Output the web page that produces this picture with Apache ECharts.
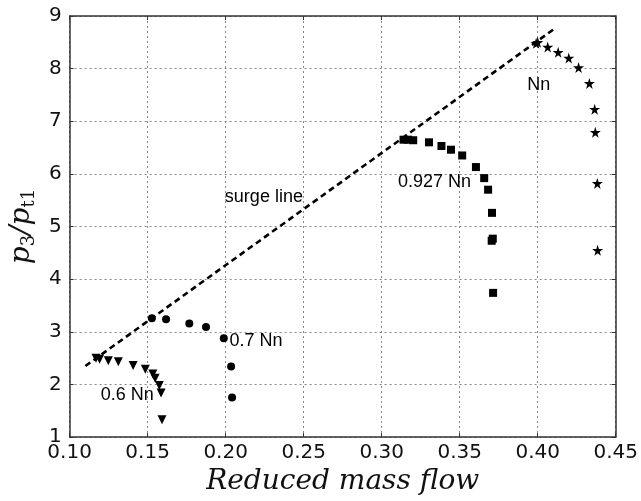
<!DOCTYPE html>
<html><head><meta charset="utf-8">
<script src="https://cdn.jsdelivr.net/npm/echarts@6/dist/echarts.min.js"></script>
<style>html,body{margin:0;padding:0;background:#fff}#c{width:641px;height:501px}</style>
</head><body><div id="c"></div>
<script>
// 0.6 Nn (down triangles)
const n06 = [[0.1169,2.50],[0.1192,2.48],[0.1248,2.45],[0.1312,2.43],[0.1407,2.36],[0.1485,2.29],[0.1533,2.20],[0.1548,2.12],[0.1575,1.98],[0.1586,1.84],[0.1592,1.33]];
// 0.7 Nn (circles)
const n07 = [[0.1527,3.26],[0.1618,3.24],[0.1767,3.16],[0.1874,3.09],[0.1988,2.88],[0.2035,2.34],[0.2041,1.75]];
// 0.927 Nn (squares)
const n0927 = [[0.3140,6.65],[0.3170,6.65],[0.3202,6.64],[0.3303,6.60],[0.3383,6.53],[0.3444,6.46],[0.3516,6.35],[0.3604,6.13],[0.3657,5.92],[0.3682,5.70],[0.3707,5.26],[0.3705,4.73],[0.3712,4.77],[0.3714,3.74]];
// Nn (stars)
const nn = [[0.3990,8.48],[0.4000,8.50],[0.4064,8.41],[0.4131,8.31],[0.4199,8.20],[0.4262,8.02],[0.4331,7.72],[0.4365,7.23],[0.4369,6.79],[0.4382,5.82],[0.4384,4.55]];
// surge line endpoints
const surge = [[0.1101,2.35],[0.4104,8.75]];
// annotation labels
const notes = [[0.2245,5.56,'surge line'],[0.3339,5.84,'0.927 Nn'],[0.4006,7.69,'Nn'],[0.2195,2.82,'0.7 Nn'],[0.1370,1.80,'0.6 Nn']];
const xTicks = [0.10,0.15,0.20,0.25,0.30,0.35,0.40,0.45];
const yTicks = [1,2,3,4,5,6,7,8,9];

const star = 'path://M50,0 L61,35 L98,35 L68,57 L79,91 L50,70 L21,91 L32,57 L2,35 L39,35 Z';
const axisCol = '#333';
const chart = echarts.init(document.getElementById('c'));
const tickFont = {fontFamily:'DejaVu Sans', fontSize:20, color:'#111'};
const mk = {color:'#000', opacity:1};
chart.setOption({
  animation:false,
  backgroundColor:'#fff',
  grid:{left:64,right:23.5,top:16,bottom:56.7},
  xAxis:[{
    type:'value', min:0.10, max:0.45, interval:0.05,
    axisLine:{show:true,onZero:false,lineStyle:{color:axisCol,width:1.5}},
    axisTick:{show:true,inside:true,length:4,lineStyle:{color:axisCol}},
    axisLabel:Object.assign({margin:6,formatter:v=>v.toFixed(2)},tickFont),
    splitLine:{show:true,lineStyle:{type:[2,3],color:'#888',width:1}},
    name:'Reduced mass flow', nameLocation:'middle', nameGap:30,
    nameTextStyle:{fontFamily:'DejaVu Serif',fontStyle:'italic',fontSize:28,color:'#111'}
  },{
    type:'value', position:'top', min:0.10, max:0.45, interval:0.05,
    axisLine:{show:true,onZero:false,lineStyle:{color:axisCol,width:1.5}},
    axisTick:{show:true,inside:true,length:4,lineStyle:{color:axisCol}},
    axisLabel:{show:false}, splitLine:{show:false}
  }],
  yAxis:[{
    type:'value', min:1, max:9, interval:1,
    axisLine:{show:true,onZero:false,lineStyle:{color:axisCol,width:1.5}},
    axisTick:{show:true,inside:true,length:4,lineStyle:{color:axisCol}},
    axisLabel:Object.assign({margin:8},tickFont),
    splitLine:{show:true,lineStyle:{type:[2,3],color:'#888',width:1}},
    name:'{a|p}{b|3}{a|/p}{b|t1}', nameLocation:'middle', nameGap:30, nameRotate:90,
    nameTextStyle:{rich:{
      a:{fontFamily:'DejaVu Serif',fontStyle:'italic',fontSize:28,color:'#111',lineHeight:30,verticalAlign:'middle'},
      b:{fontFamily:'DejaVu Serif',fontSize:18,color:'#111',padding:[14,0,0,0],verticalAlign:'middle'}
    }}
  },{
    type:'value', position:'right', min:1, max:9, interval:1,
    axisLine:{show:true,onZero:false,lineStyle:{color:axisCol,width:1.5}},
    axisTick:{show:true,inside:true,length:4,lineStyle:{color:axisCol}},
    axisLabel:{show:false}, splitLine:{show:false}
  }],
  series:[
    {type:'line', data:surge, symbol:'none', lineStyle:{color:'#000',width:2.6,type:[6,4]}, z:3},
    {type:'scatter', data:n06, symbol:'triangle', symbolRotate:180, symbolSize:9, itemStyle:mk},
    {type:'scatter', data:n07, symbol:'circle', symbolSize:8, itemStyle:mk},
    {type:'scatter', data:n0927, symbol:'rect', symbolSize:8, itemStyle:mk},
    {type:'scatter', data:nn, symbol:star, symbolSize:11, itemStyle:mk},
    {type:'scatter', data:notes.map(n=>({value:[n[0],n[1]],label:{formatter:n[2]}})), symbolSize:0,
     itemStyle:{opacity:1},
     label:{show:true,position:'inside',fontFamily:'Liberation Sans',fontSize:18,color:'#000'}, z:5}
  ]
});
</script></body></html>
